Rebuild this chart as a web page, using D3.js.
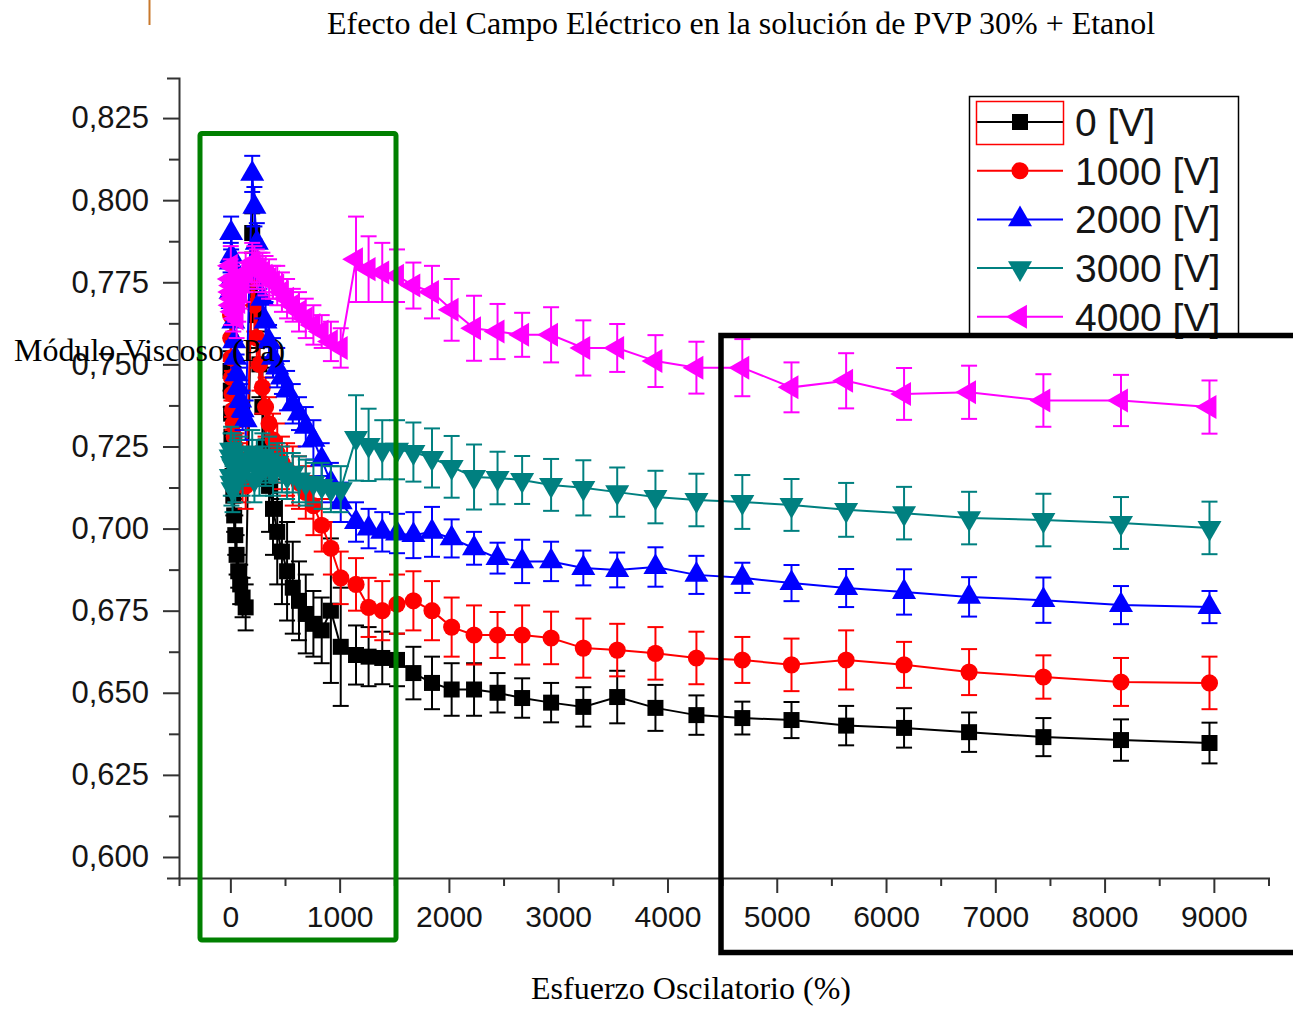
<!DOCTYPE html>
<html>
<head>
<meta charset="utf-8">
<script src="https://cdn.jsdelivr.net/npm/d3@7"></script>
<style>
  body { margin: 0; background: #fff; }
  svg { display: block; }
</style>
</head>
<body>
<div id="chart"></div>
<script>
// strain (%) of every measured point, three sweeps one after another
var strain = [2, 4, 7, 10, 15, 20, 27, 35, 45, 57, 72, 90, 112, 140,
  200, 220, 242, 266, 293, 322, 354, 390, 429, 472, 519, 571, 628, 690, 760, 836, 920, 1010,
  1150, 1265, 1390, 1525, 1675, 1845, 2025, 2230, 2445, 2670, 2935, 3230, 3540, 3890, 4265,
  4685, 5135, 5635, 6165, 6760, 7440, 8150, 8960];

var seriesNames = ['0 [V]', '1000 [V]', '2000 [V]', '3000 [V]', '4000 [V]'];

var visc0 = [0.748, 0.742, 0.735, 0.728, 0.722, 0.716, 0.710, 0.704, 0.698, 0.692, 0.687, 0.683, 0.679, 0.676,
  0.790, 0.780, 0.765, 0.750, 0.737, 0.725, 0.713, 0.706, 0.699, 0.693, 0.687, 0.682, 0.678, 0.674, 0.671, 0.669, 0.675, 0.664,
  0.6615, 0.661, 0.6606, 0.660, 0.656, 0.653, 0.651, 0.651, 0.650, 0.6484, 0.647, 0.6457, 0.6487, 0.6454, 0.6432,
  0.6423, 0.6417, 0.640, 0.6393, 0.638, 0.6365, 0.6356, 0.6347];
var err0 = [0.006, 0.005, 0.006, 0.006, 0.005, 0.006, 0.006, 0.005, 0.006, 0.006, 0.005, 0.006, 0.006, 0.007,
  0.006, 0.008, 0.010, 0.010, 0.012, 0.012, 0.014, 0.014, 0.016, 0.016, 0.015, 0.014, 0.012, 0.012, 0.010, 0.010, 0.022, 0.018,
  0.009, 0.009, 0.008, 0.008, 0.008, 0.008, 0.008, 0.008, 0.006, 0.006, 0.006, 0.006, 0.008, 0.007, 0.006,
  0.005, 0.0055, 0.006, 0.006, 0.006, 0.0058, 0.0063, 0.0062];

var visc1000 = [0.765, 0.758, 0.752, 0.746, 0.741, 0.736, 0.732, 0.728, 0.725, 0.722, 0.719, 0.717, 0.715, 0.713,
  0.776, 0.768, 0.758, 0.750, 0.743, 0.737, 0.732, 0.727, 0.723, 0.720, 0.718, 0.716, 0.714, 0.711, 0.707, 0.701, 0.694, 0.685,
  0.683, 0.676, 0.675, 0.677, 0.678, 0.675, 0.670, 0.6676, 0.6676, 0.6676, 0.6667, 0.6636, 0.663, 0.662, 0.6606,
  0.660, 0.6585, 0.660, 0.6585, 0.6563, 0.6548, 0.6533, 0.653];
var err1000 = [0.007, 0.007, 0.006, 0.007, 0.007, 0.006, 0.007, 0.007, 0.006, 0.007, 0.007, 0.006, 0.007, 0.007,
  0.008, 0.008, 0.009, 0.008, 0.008, 0.009, 0.008, 0.008, 0.009, 0.008, 0.008, 0.009, 0.008, 0.008, 0.009, 0.008, 0.008, 0.008,
  0.008, 0.009, 0.009, 0.009, 0.009, 0.009, 0.009, 0.009, 0.007, 0.009, 0.008, 0.009, 0.008, 0.008, 0.008,
  0.007, 0.008, 0.009, 0.007, 0.007, 0.0066, 0.0073, 0.008];

var visc2000 = [0.772, 0.781, 0.790, 0.783, 0.776, 0.769, 0.763, 0.757, 0.752, 0.747, 0.743, 0.739, 0.736, 0.733,
  0.808, 0.798, 0.787, 0.778, 0.770, 0.763, 0.757, 0.752, 0.749, 0.746, 0.742, 0.738, 0.735, 0.731, 0.727, 0.721, 0.714, 0.708,
  0.702, 0.700, 0.699, 0.6985, 0.698, 0.699, 0.697, 0.694, 0.691, 0.690, 0.690, 0.688, 0.6874, 0.6883, 0.6859,
  0.685, 0.6834, 0.6819, 0.6807, 0.6792, 0.6782, 0.6767, 0.6761];
var err2000 = [0.006, 0.006, 0.005, 0.006, 0.006, 0.005, 0.006, 0.006, 0.005, 0.006, 0.006, 0.005, 0.006, 0.006,
  0.0055, 0.006, 0.006, 0.005, 0.006, 0.006, 0.005, 0.006, 0.006, 0.005, 0.006, 0.006, 0.005, 0.006, 0.006, 0.005, 0.006, 0.006,
  0.006, 0.006, 0.006, 0.006, 0.007, 0.0076, 0.0058, 0.005, 0.0047, 0.0066, 0.006, 0.0053, 0.0053, 0.006, 0.0058,
  0.0046, 0.0055, 0.0058, 0.0069, 0.006, 0.0069, 0.0058, 0.0049];

var visc3000 = [0.722, 0.716, 0.724, 0.714, 0.720, 0.712, 0.719, 0.723, 0.715, 0.720, 0.716, 0.721, 0.717, 0.719,
  0.723, 0.715, 0.721, 0.717, 0.722, 0.719, 0.721, 0.717, 0.720, 0.718, 0.716, 0.717, 0.715, 0.714, 0.714, 0.713, 0.712, 0.712,
  0.7276, 0.7255, 0.724, 0.724, 0.7233, 0.7215, 0.7188, 0.7157, 0.7154, 0.7148, 0.7133, 0.7124, 0.7111, 0.7096, 0.7087,
  0.7081, 0.7072, 0.7057, 0.7047, 0.7032, 0.7026, 0.7017, 0.7002];
var err3000 = [0.007, 0.006, 0.007, 0.007, 0.006, 0.007, 0.007, 0.006, 0.007, 0.007, 0.006, 0.007, 0.007, 0.006,
  0.007, 0.007, 0.006, 0.007, 0.007, 0.006, 0.007, 0.007, 0.006, 0.007, 0.007, 0.006, 0.007, 0.007, 0.006, 0.007, 0.007, 0.007,
  0.013, 0.011, 0.009, 0.009, 0.009, 0.009, 0.0094, 0.0099, 0.008, 0.0073, 0.0079, 0.0084, 0.0075, 0.008, 0.008,
  0.0082, 0.0079, 0.0082, 0.008, 0.008, 0.008, 0.0079, 0.008];

var visc4000 = [0.776, 0.780, 0.772, 0.768, 0.774, 0.770, 0.766, 0.771, 0.768, 0.764, 0.769, 0.772, 0.775, 0.778,
  0.781, 0.780, 0.779, 0.779, 0.778, 0.777, 0.776, 0.775, 0.774, 0.772, 0.770, 0.768, 0.766, 0.764, 0.762, 0.760, 0.757, 0.755,
  0.782, 0.779, 0.778, 0.777, 0.774, 0.772, 0.7666, 0.761, 0.760, 0.759, 0.759, 0.755, 0.755, 0.751, 0.749,
  0.749, 0.743, 0.745, 0.741, 0.7415, 0.739, 0.739, 0.737];
var err4000 = [0.006, 0.006, 0.005, 0.006, 0.006, 0.005, 0.006, 0.006, 0.005, 0.006, 0.006, 0.005, 0.006, 0.006,
  0.006, 0.006, 0.006, 0.005, 0.006, 0.006, 0.006, 0.005, 0.006, 0.006, 0.006, 0.005, 0.006, 0.006, 0.006, 0.005, 0.006, 0.006,
  0.013, 0.010, 0.009, 0.008, 0.007, 0.008, 0.0094, 0.0099, 0.0084, 0.0067, 0.0084, 0.0084, 0.0073, 0.0079, 0.0079,
  0.0087, 0.0076, 0.0084, 0.0079, 0.0081, 0.008, 0.0078, 0.0081];

var xTicks = [0, 1000, 2000, 3000, 4000, 5000, 6000, 7000, 8000, 9000];
var yTicks = [0.600, 0.625, 0.650, 0.675, 0.700, 0.725, 0.750, 0.775, 0.800, 0.825];

var series = [
  { name: seriesNames[0], values: visc0, errors: err0, color: '#000000', shape: 'square' },
  { name: seriesNames[1], values: visc1000, errors: err1000, color: '#ff0000', shape: 'circle' },
  { name: seriesNames[2], values: visc2000, errors: err2000, color: '#0000ff', shape: 'up' },
  { name: seriesNames[3], values: visc3000, errors: err3000, color: '#008080', shape: 'down' },
  { name: seriesNames[4], values: visc4000, errors: err4000, color: '#ff00ff', shape: 'left' }
];

var width = 1293, height = 1010;

var svg = d3.select('#chart')
  .append('svg')
  .attr('width', width)
  .attr('height', height);

var x = d3.scaleLinear().domain([-470, 9500]).range([179, 1268.5]);
var y = d3.scaleLinear().domain([0.5936, 0.8372]).range([878, 78]);

// axes, major + minor ticks
var axisColor = '#333';
var sans = '"Liberation Sans", Arial, sans-serif';
var minorX = d3.range(-500, 9501, 1000).filter(function(d){ return d > -470; });
var minorY = yTicks.slice(0, -1).map(function(d){ return d + 0.0125; });

svg.append('g')
  .attr('class', 'yaxis')
  .attr('transform', 'translate(179,0)')
  .call(d3.axisLeft(y).tickValues(yTicks).tickSize(16).tickSizeOuter(12).tickPadding(14)
    .tickFormat(function(d){ return d.toFixed(3).replace('.', ','); }));
svg.append('g')
  .attr('transform', 'translate(179,0)')
  .call(d3.axisLeft(y).tickValues(minorY).tickSize(10).tickSizeOuter(0).tickFormat(''))
  .select('.domain').remove();

svg.append('g')
  .attr('class', 'xaxis')
  .attr('transform', 'translate(0,878)')
  .call(d3.axisBottom(x).tickValues(xTicks).tickSize(15).tickSizeOuter(8).tickPadding(13)
    .tickFormat(function(d){ return d; }));
svg.append('g')
  .attr('transform', 'translate(0,878)')
  .call(d3.axisBottom(x).tickValues(minorX).tickSize(8).tickSizeOuter(0).tickFormat(''))
  .select('.domain').remove();

svg.selectAll('.domain, .tick line')
  .attr('stroke', axisColor)
  .attr('stroke-width', 2);
svg.selectAll('.tick text')
  .attr('font-family', sans)
  .attr('fill', '#151515');
svg.selectAll('.yaxis .tick text').attr('font-size', 31);
svg.selectAll('.xaxis .tick text').attr('font-size', 30);

// symbols
function symbolPath(shape){
  if(shape === 'square') return d3.symbol().type(d3.symbolSquare).size(256)();
  if(shape === 'circle') return d3.symbol().type(d3.symbolCircle).size(230)();
  return d3.symbol().type(d3.symbolTriangle).size(250)();
}
function symbolRotate(shape){
  if(shape === 'down') return 180;
  if(shape === 'left') return -90;
  return 0;
}

var line = d3.line()
  .x(function(d){ return x(d.x); })
  .y(function(d){ return y(d.v); });

var plot = svg.append('g');

series.forEach(function(s){
  var pts = strain.map(function(sx, i){ return { x: sx, v: s.values[i], e: s.errors[i] }; });
  var g = plot.append('g');

  g.append('path')
    .datum(pts)
    .attr('d', line)
    .attr('fill', 'none')
    .attr('stroke', s.color)
    .attr('stroke-width', 2);

  var bars = g.selectAll('g.err')
    .data(pts)
    .enter()
    .append('g')
    .attr('class', 'err')
    .attr('stroke', s.color)
    .attr('stroke-width', 2);
  bars.append('line')
    .attr('x1', function(d){ return x(d.x); })
    .attr('x2', function(d){ return x(d.x); })
    .attr('y1', function(d){ return y(d.v + d.e); })
    .attr('y2', function(d){ return y(d.v - d.e); });
  bars.append('line')
    .attr('x1', function(d){ return x(d.x) - 8; })
    .attr('x2', function(d){ return x(d.x) + 8; })
    .attr('y1', function(d){ return y(d.v + d.e); })
    .attr('y2', function(d){ return y(d.v + d.e); });
  bars.append('line')
    .attr('x1', function(d){ return x(d.x) - 8; })
    .attr('x2', function(d){ return x(d.x) + 8; })
    .attr('y1', function(d){ return y(d.v - d.e); })
    .attr('y2', function(d){ return y(d.v - d.e); });

  g.selectAll('path.mark')
    .data(pts)
    .enter()
    .append('path')
    .attr('class', 'mark')
    .attr('d', symbolPath(s.shape))
    .attr('transform', function(d){
      return 'translate(' + x(d.x) + ',' + y(d.v) + ') rotate(' + symbolRotate(s.shape) + ')';
    })
    .attr('fill', s.color);
});

// legend
var legend = svg.append('g');
legend.append('rect')
  .attr('x', 969.5).attr('y', 96.5)
  .attr('width', 269).attr('height', 240)
  .attr('fill', '#fff')
  .attr('stroke', '#000')
  .attr('stroke-width', 1.5);

var entries = legend.selectAll('g.entry')
  .data(series)
  .enter()
  .append('g')
  .attr('class', 'entry')
  .attr('transform', function(d, i){ return 'translate(0,' + (122 + i * 48.7) + ')'; });
entries.append('line')
  .attr('x1', 977).attr('x2', 1063)
  .attr('stroke', function(d){ return d.color; })
  .attr('stroke-width', 2);
entries.append('path')
  .attr('d', function(d){ return symbolPath(d.shape); })
  .attr('transform', function(d){ return 'translate(1020,0) rotate(' + symbolRotate(d.shape) + ')'; })
  .attr('fill', function(d){ return d.color; });
entries.append('text')
  .attr('x', 1075)
  .attr('dy', '0.36em')
  .attr('font-family', sans)
  .attr('font-size', 39)
  .attr('fill', '#151515')
  .text(function(d){ return d.name; });
// selection box around the first sample
legend.append('rect')
  .attr('x', 976.5).attr('y', 101.5)
  .attr('width', 87).attr('height', 43)
  .attr('fill', 'none')
  .attr('stroke', '#ff0000')
  .attr('stroke-width', 1.5);

// highlight boxes drawn over the plot
svg.append('rect')
  .attr('x', 200).attr('y', 133.5)
  .attr('width', 196).attr('height', 806.5)
  .attr('rx', 2)
  .attr('fill', 'none')
  .attr('stroke', '#008000')
  .attr('stroke-width', 5);
svg.append('rect')
  .attr('x', 721).attr('y', 335.5)
  .attr('width', 620).attr('height', 617)
  .attr('fill', 'none')
  .attr('stroke', '#000')
  .attr('stroke-width', 5.5);

svg.append('line')
  .attr('x1', 149.5).attr('x2', 149.5)
  .attr('y1', 0).attr('y2', 25)
  .attr('stroke', '#c8782c')
  .attr('stroke-width', 2);

// titles
var serif = '"Liberation Serif", "Times New Roman", serif';
svg.append('text')
  .attr('x', 327).attr('y', 34)
  .attr('font-family', serif).attr('font-size', 32)
  .text('Efecto del Campo Eléctrico en la solución de PVP 30% + Etanol');
svg.append('text')
  .attr('x', 14).attr('y', 361)
  .attr('font-family', serif).attr('font-size', 32)
  .text('Módulo Viscoso (Pa)');
svg.append('text')
  .attr('x', 691).attr('y', 999)
  .attr('text-anchor', 'middle')
  .attr('font-family', serif).attr('font-size', 32)
  .text('Esfuerzo Oscilatorio (%)');
</script>
</body>
</html>
